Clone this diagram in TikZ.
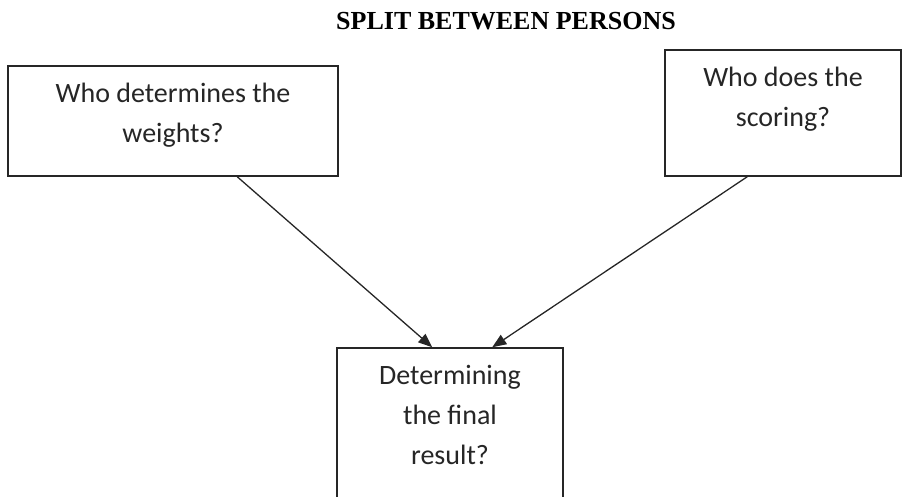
\documentclass[tikz,border=0pt]{standalone}
\usepackage{fontspec}
\setmainfont{Carlito}
\newfontfamily\titlefont{Liberation Serif}
\usetikzlibrary{arrows.meta,calc}

\tikzset{
  box/.style={draw=black!85, line width=1.5pt, fill=white, inner sep=0pt},
  lbl/.style={font=\fontsize{28}{40}\selectfont, text=black!85, align=center, inner sep=0pt},
  link/.style={draw=black!85, line width=1.3pt, -{Triangle[length=14pt,width=11pt]}},
}

\begin{document}
\begin{tikzpicture}[x=1pt,y=-1pt]
  \useasboundingbox (0,0) rectangle (903,497);
  \clip (0,0) rectangle (903,497);

  % heading
  \node[anchor=base, inner sep=0pt, font=\titlefont\bfseries\fontsize{26}{30}\selectfont] (title) at (506,30) {SPLIT BETWEEN PERSONS};

  % the three boxes
  \node[box, minimum width=330pt, minimum height=110pt] (weights) at (173,121) {};
  \node[box, minimum width=236pt, minimum height=126pt] (scoring) at (783,113) {};
  \node[box, minimum width=226pt, minimum height=220pt] (result) at (450,458) {};

  % box texts
  \node[lbl, anchor=north] (weightstext) at ($(weights.north)+(0,18)$) {Who determines the\\weights?};
  \node[lbl, anchor=north] (scoringtext) at ($(scoring.north)+(0,18)$) {Who does the\\scoring?};
  \node[lbl, anchor=north] (resulttext) at ($(result.north)+(0,18)$) {Determining\\the final\\result?};

  % connector ends on the box borders
  \coordinate (wfoot) at ($(weights.south west)+(230,0)$);
  \coordinate (sfoot) at ($(scoring.south west)+(83,0)$);
  \coordinate (rleft) at ($(result.north west)+(96,0)$);
  \coordinate (rright) at ($(result.north west)+(156,0)$);

  \draw[link] (wfoot) -- (rleft);
  \draw[link] (sfoot) -- (rright);
\end{tikzpicture}
\end{document}
